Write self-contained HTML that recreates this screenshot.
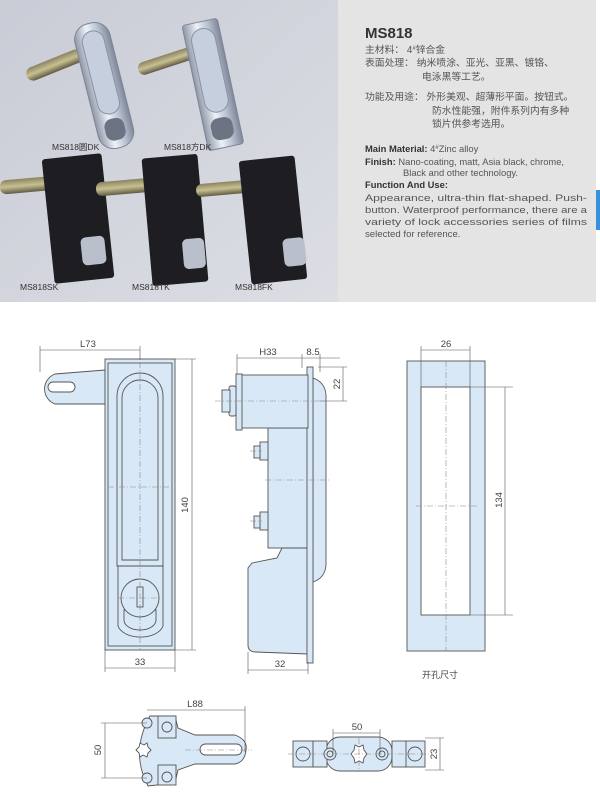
<!DOCTYPE html>
<html><head><meta charset="utf-8"><style>
html,body{margin:0;padding:0;background:#fff;}
svg{display:block;}
text{font-family:"Liberation Sans","Noto Sans CJK SC",sans-serif;}
</style></head><body>
<svg width="600" height="795" viewBox="0 0 600 795" xmlns="http://www.w3.org/2000/svg">
<defs>
<linearGradient id="bg" x1="0" y1="0" x2="1" y2="1"><stop offset="0" stop-color="#c9ccd6"/><stop offset="1" stop-color="#dcdee4"/></linearGradient>
<linearGradient id="chrome" x1="0" y1="0" x2="1" y2="0"><stop offset="0" stop-color="#8f97a8"/><stop offset=".4" stop-color="#eef2f8"/><stop offset=".7" stop-color="#b8c2d2"/><stop offset="1" stop-color="#7f8898"/></linearGradient>
<linearGradient id="rod" x1="0" y1="0" x2="0" y2="1"><stop offset="0" stop-color="#8a8260"/><stop offset=".5" stop-color="#c8c090"/><stop offset="1" stop-color="#5f5a45"/></linearGradient>
</defs>
<rect x="0" y="0" width="338" height="302" fill="url(#bg)"/>
<g transform="rotate(-14 110 80)">
<rect x="30" y="45" width="60" height="14" rx="7" fill="url(#rod)" transform="rotate(-8 60 53)"/>
<rect x="85" y="20" width="36" height="128" rx="16" fill="url(#chrome)" stroke="#7d8594"/>
<rect x="92" y="28" width="22" height="85" rx="11" fill="#c5cfdd" stroke="#8a93a3"/>
<rect x="93" y="118" width="20" height="22" rx="8" fill="#6c7382"/>
</g>
<g transform="rotate(-12 215 80)">
<rect x="142" y="45" width="58" height="13" rx="6" fill="url(#rod)" transform="rotate(-6 170 52)"/>
<rect x="194" y="20" width="36" height="128" rx="3" fill="url(#chrome)" stroke="#7d8594"/>
<rect x="200" y="27" width="24" height="85" rx="12" fill="#c5cfdd" stroke="#8a93a3"/>
<rect x="201" y="118" width="22" height="22" rx="8" fill="#6c7382"/>
</g>
<text x="52" y="150" font-size="8.5" fill="#333">MS818圆DK</text>
<text x="164" y="150" font-size="8.5" fill="#333">MS818方DK</text>
<rect x="0" y="178" width="58" height="14" rx="6" fill="url(#rod)" transform="rotate(-5 30 185)"/>
<rect x="48" y="156" width="60" height="125" rx="3" fill="#1e1e22" transform="rotate(-6 78 218)"/>
<rect x="78" y="238" width="24" height="28" rx="5" fill="#b9c0cc" transform="rotate(-6 78 218)"/>
<rect x="96" y="180" width="58" height="14" rx="6" fill="url(#rod)" transform="rotate(-5 125 187)"/>
<rect x="147" y="156" width="56" height="128" rx="3" fill="#1e1e22" transform="rotate(-5 175 220)"/>
<rect x="180" y="240" width="22" height="30" rx="5" fill="#b9c0cc" transform="rotate(-5 175 220)"/>
<rect x="196" y="182" width="55" height="13" rx="6" fill="url(#rod)" transform="rotate(-5 223 188)"/>
<rect x="245" y="158" width="56" height="124" rx="3" fill="#1e1e22" transform="rotate(-6 273 220)"/>
<rect x="280" y="240" width="22" height="28" rx="5" fill="#b9c0cc" transform="rotate(-6 273 220)"/>
<text x="20" y="290" font-size="8.5" fill="#333">MS818SK</text>
<text x="132" y="290" font-size="8.5" fill="#333">MS818TK</text>
<text x="235" y="290" font-size="8.5" fill="#333">MS818FK</text>
<rect x="338" y="0" width="258" height="302" fill="#e4e4e4"/>
<rect x="596" y="190" width="4" height="40" fill="#3b8fd6"/>
<g fill="#555" font-size="9.8">
<text x="365" y="38" font-size="15" font-weight="bold" fill="#333">MS818</text>
<text x="365" y="53">主材料： 4<tspan font-size="6" dy="-3">#</tspan><tspan dy="3">锌合金</tspan></text>
<text x="365" y="66">表面处理： 纳米喷涂、亚光、亚黑、镀铬、</text>
<text x="422" y="80">电泳黑等工艺。</text>
<text x="365" y="100">功能及用途： 外形美观、超薄形平面。按钮式。</text>
<text x="432" y="114">防水性能强，附件系列内有多种</text>
<text x="432" y="127">锁片供参考选用。</text>
<text x="365" y="152" font-size="9.4"><tspan font-weight="bold" fill="#333">Main Material:</tspan> 4<tspan font-size="6" dy="-3">#</tspan><tspan dy="3">Zinc alloy</tspan></text>
<text x="365" y="165" font-size="9.4"><tspan font-weight="bold" fill="#333">Finish:</tspan> Nano-coating, matt, Asia black, chrome,</text>
<text x="403" y="176" font-size="9.4">Black and other technology.</text>
<text x="365" y="188" font-size="9.4" font-weight="bold" fill="#333">Function And Use:</text>
<text x="365" y="201" font-size="9.6" textLength="222" lengthAdjust="spacingAndGlyphs">Appearance, ultra-thin flat-shaped. Push-</text>
<text x="365" y="213" font-size="9.6" textLength="222" lengthAdjust="spacingAndGlyphs">button. Waterproof performance, there are a</text>
<text x="365" y="225" font-size="9.6" textLength="222" lengthAdjust="spacingAndGlyphs">variety of lock accessories series of films</text>
<text x="365" y="237" font-size="9.6">selected for reference.</text>
</g>

<g stroke="#555" stroke-width="0.9" fill="#d8e8f6">
<path d="M105 370 L55 374 A16 16 0 0 0 55 404 L105 404 Z"/>
<rect x="48" y="382" width="27" height="10" rx="5" fill="#fff"/>
<rect x="105" y="359" width="70" height="291"/>
<rect x="108" y="363" width="64" height="283" fill="none"/>
<path d="M117 566 V396 A23 23 0 0 1 163 396 V566 Z" fill="none"/>
<path d="M122 560 V398 A18 18 0 0 1 158 398 V560 Z" fill="none"/>
<path d="M118 566 H163 V626 A23 14 0 0 1 118 626 Z" fill="none"/>
<path d="M124 620 A16 10 0 0 0 156 620 V610 H124 Z" fill="none"/>
<circle cx="140" cy="598" r="19"/>
<rect x="137" y="587" width="6" height="20" fill="none"/>
<rect x="268" y="428" width="40" height="120"/>
<path d="M282 548 L277 558 L252 563 L248 568 L248 645 Q248 652 256 652 L308 654 V548 Z"/>
<path d="M313 378 Q325 382 326 395 V565 Q325 578 313 582 Z"/>
<rect x="307" y="367" width="6" height="296"/>
<rect x="241" y="375" width="67" height="53"/>
<rect x="236" y="374" width="6" height="56"/>
<rect x="229" y="386" width="7" height="30" rx="2"/>
<rect x="222" y="390" width="8" height="22"/>
<rect x="260" y="442" width="8" height="18"/><rect x="254" y="446" width="6" height="12"/>
<rect x="260" y="512" width="8" height="18"/><rect x="254" y="516" width="6" height="12"/>
<rect x="407" y="361" width="78" height="290"/>
<rect x="421" y="387" width="49" height="228" fill="#fff"/>
<path d="M150 716 L175 716 L178 728 L195 735 L235 735 Q248 740 246 750 Q245 762 235 764 L195 764 L178 770 L175 783 L148 786 Q130 752 150 716 Z"/>
<rect x="158" y="716" width="18" height="22"/><rect x="158" y="765" width="18" height="20"/>
<circle cx="147" cy="723" r="5"/><circle cx="147" cy="778" r="5"/>
<circle cx="167" cy="727" r="5"/><circle cx="167" cy="777" r="5"/>
<rect x="200" y="744" width="42" height="11" rx="5.5" fill="#fff"/>
<polygon points="140,743 144,745 147,743 148,747 151,750 148,753 147,757 143,755 140,757 139,753 136,750 139,747" fill="#fff"/>
<rect x="326" y="737" width="66" height="34" rx="14"/>
<rect x="293" y="741" width="20" height="26"/><rect x="313" y="741" width="14" height="26"/>
<rect x="405" y="741" width="20" height="26"/><rect x="392" y="741" width="14" height="26"/>
<circle cx="303" cy="754" r="7"/><circle cx="415" cy="754" r="7"/>
<circle cx="330" cy="754" r="6"/><circle cx="330" cy="754" r="3"/>
<circle cx="382" cy="754" r="6"/><circle cx="382" cy="754" r="3"/>
<polygon points="355,745 359,747 363,745 364,750 367,754 364,758 363,763 359,761 355,763 354,758 351,754 354,750" fill="#fff"/>
</g>
<g stroke="#888" stroke-width="0.6" stroke-dasharray="6,2,1,2" fill="none">
<line x1="140" y1="362" x2="140" y2="650"/><line x1="108" y1="487" x2="172" y2="487"/>
<line x1="118" y1="598" x2="162" y2="598"/>
<line x1="215" y1="401" x2="320" y2="401"/><line x1="250" y1="451" x2="262" y2="451"/>
<line x1="250" y1="521" x2="262" y2="521"/><line x1="265" y1="480" x2="330" y2="480"/>
<line x1="446" y1="361" x2="446" y2="651"/><line x1="416" y1="506" x2="478" y2="506"/>
<line x1="185" y1="750" x2="252" y2="750"/>
<line x1="288" y1="754" x2="432" y2="754"/><line x1="359" y1="738" x2="359" y2="772"/>
</g>
<g stroke="#555" stroke-width="0.6" fill="none">
<line x1="40" y1="350" x2="140" y2="350"/><line x1="40" y1="346" x2="40" y2="372"/><line x1="140" y1="346" x2="140" y2="360"/>
<line x1="192" y1="359" x2="192" y2="650"/><line x1="175" y1="359" x2="196" y2="359"/><line x1="175" y1="650" x2="196" y2="650"/>
<line x1="105" y1="668" x2="175" y2="668"/><line x1="105" y1="650" x2="105" y2="672"/><line x1="175" y1="650" x2="175" y2="672"/>
<line x1="237" y1="358" x2="340" y2="358"/><line x1="237" y1="354" x2="237" y2="374"/><line x1="302" y1="354" x2="302" y2="368"/><line x1="320" y1="354" x2="320" y2="372"/>
<line x1="343" y1="367" x2="343" y2="401"/><line x1="318" y1="367" x2="347" y2="367"/><line x1="320" y1="401" x2="347" y2="401"/>
<line x1="248" y1="670" x2="308" y2="670"/><line x1="248" y1="652" x2="248" y2="674"/><line x1="308" y1="662" x2="308" y2="674"/>
<line x1="421" y1="350" x2="470" y2="350"/><line x1="421" y1="346" x2="421" y2="387"/><line x1="470" y1="346" x2="470" y2="387"/>
<line x1="505" y1="387" x2="505" y2="615"/><line x1="470" y1="387" x2="513" y2="387"/><line x1="470" y1="615" x2="513" y2="615"/>
<line x1="147" y1="710" x2="245" y2="710"/><line x1="245" y1="706" x2="245" y2="752"/>
<line x1="105" y1="723" x2="105" y2="778"/><line x1="101" y1="723" x2="147" y2="723"/><line x1="101" y1="778" x2="147" y2="778"/>
<line x1="333" y1="733" x2="380" y2="733"/><line x1="333" y1="729" x2="333" y2="754"/><line x1="380" y1="729" x2="380" y2="754"/>
<line x1="440" y1="738" x2="440" y2="770"/><line x1="425" y1="738" x2="444" y2="738"/><line x1="425" y1="770" x2="444" y2="770"/>
</g>
<g fill="#444" font-size="9.5">
<text x="80" y="347">L73</text>
<text x="0" y="0" transform="translate(188 505) rotate(-90)" text-anchor="middle">140</text>
<text x="140" y="665" text-anchor="middle">33</text>
<text x="268" y="355" text-anchor="middle">H33</text>
<text x="313" y="355" text-anchor="middle">8.5</text>
<text x="0" y="0" transform="translate(340 384) rotate(-90)" text-anchor="middle">22</text>
<text x="280" y="667" text-anchor="middle">32</text>
<text x="446" y="347" text-anchor="middle">26</text>
<text x="0" y="0" transform="translate(502 500) rotate(-90)" text-anchor="middle">134</text>
<text x="440" y="678" text-anchor="middle" font-size="9">开孔尺寸</text>
<text x="195" y="707" text-anchor="middle">L88</text>
<text x="0" y="0" transform="translate(101 750) rotate(-90)" text-anchor="middle">50</text>
<text x="357" y="730" text-anchor="middle">50</text>
<text x="0" y="0" transform="translate(437 754) rotate(-90)" text-anchor="middle">23</text>
</g>
</svg>
</body></html>
